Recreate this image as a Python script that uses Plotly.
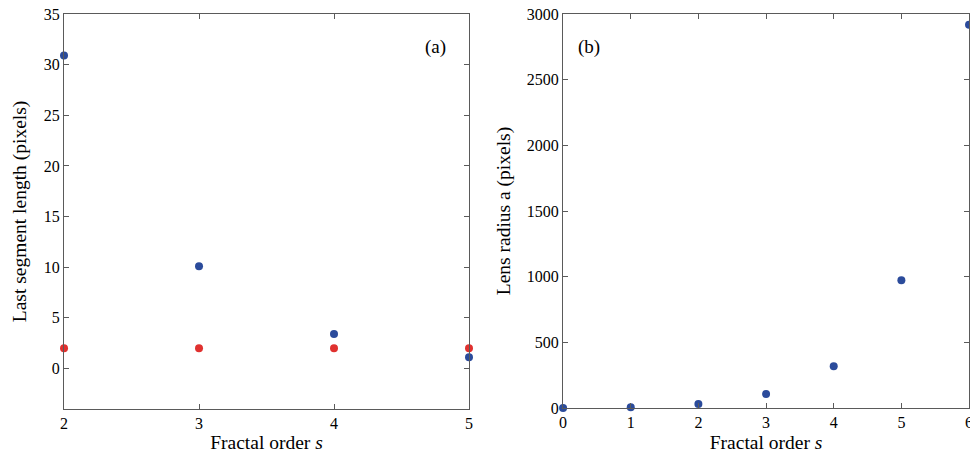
import plotly.graph_objects as go
from plotly.subplots import make_subplots

# Panel (a)
order_a = [2, 3, 4, 5]
last_seg_blue = [30.9, 10.1, 3.4, 1.1]
last_seg_red = [2, 2, 2, 2]

# Panel (b)
order_b = [0, 1, 2, 3, 4, 5, 6]
lens_radius = [1, 6, 30, 106, 318, 973, 2918]

BLUE = "#2b4b9b"
RED = "#e0312f"
FONT = "Liberation Serif, Times New Roman, serif"

fig = make_subplots(rows=1, cols=2)

fig.add_trace(go.Scatter(x=order_a, y=last_seg_blue, mode="markers",
                         marker=dict(color=BLUE, size=8), cliponaxis=False, showlegend=False), 1, 1)
fig.add_trace(go.Scatter(x=order_a, y=last_seg_red, mode="markers",
                         marker=dict(color=RED, size=8), cliponaxis=False, showlegend=False), 1, 1)
fig.add_trace(go.Scatter(x=order_b, y=lens_radius, mode="markers",
                         marker=dict(color=BLUE, size=8), cliponaxis=False, showlegend=False), 1, 2)

axis_common = dict(showgrid=False, zeroline=False, showline=True, linecolor="#5a5a5a", linewidth=1.3,
                   mirror="ticks", ticks="inside", ticklen=5, tickcolor="#5a5a5a",
                   tickfont=dict(family=FONT, size=16, color="black"), automargin=False,
                   ticklabeloverflow="allow")

fig.update_xaxes(**axis_common)
fig.update_yaxes(**axis_common)

TITLE_FONT = dict(family=FONT, size=19.5, color="black")

fig.update_xaxes(domain=[0.066, 0.4835], range=[2, 5], tickvals=[2, 3, 4, 5],
                 title=dict(text="Fractal order <i>s</i>", font=TITLE_FONT, standoff=4),
                 row=1, col=1)
fig.update_yaxes(domain=[0.111, 0.9696], range=[-4, 35], tickvals=[0, 5, 10, 15, 20, 25, 30, 35],
                 title=dict(text="Last segment length (pixels)", font=TITLE_FONT, standoff=11),
                 row=1, col=1)
fig.update_xaxes(domain=[0.5805, 0.999], range=[0, 6], tickvals=[0, 1, 2, 3, 4, 5, 6],
                 title=dict(text="Fractal order <i>s</i>", font=TITLE_FONT, standoff=4),
                 row=1, col=2)
fig.update_yaxes(domain=[0.113, 0.9696], range=[0, 3000], tickvals=[0, 500, 1000, 1500, 2000, 2500, 3000],
                 title=dict(text="Lens radius a (pixels)", font=TITLE_FONT, standoff=10),
                 row=1, col=2)

fig.add_annotation(text="(a)", x=0.449, y=0.927, xref="paper", yref="paper", showarrow=False,
                   font=dict(family=FONT, size=19, color="black"))
fig.add_annotation(text="(b)", x=0.607, y=0.927, xref="paper", yref="paper", showarrow=False,
                   font=dict(family=FONT, size=19, color="black"))

fig.update_layout(width=970, height=460, margin=dict(l=0, r=0, t=0, b=0),
                  plot_bgcolor="white", paper_bgcolor="white",
                  font=dict(family=FONT, color="black"))

fig.write_html("out.html", config={"displayModeBar": False},
               post_script="document.body.style.margin='0px';document.body.style.overflow='hidden';")
